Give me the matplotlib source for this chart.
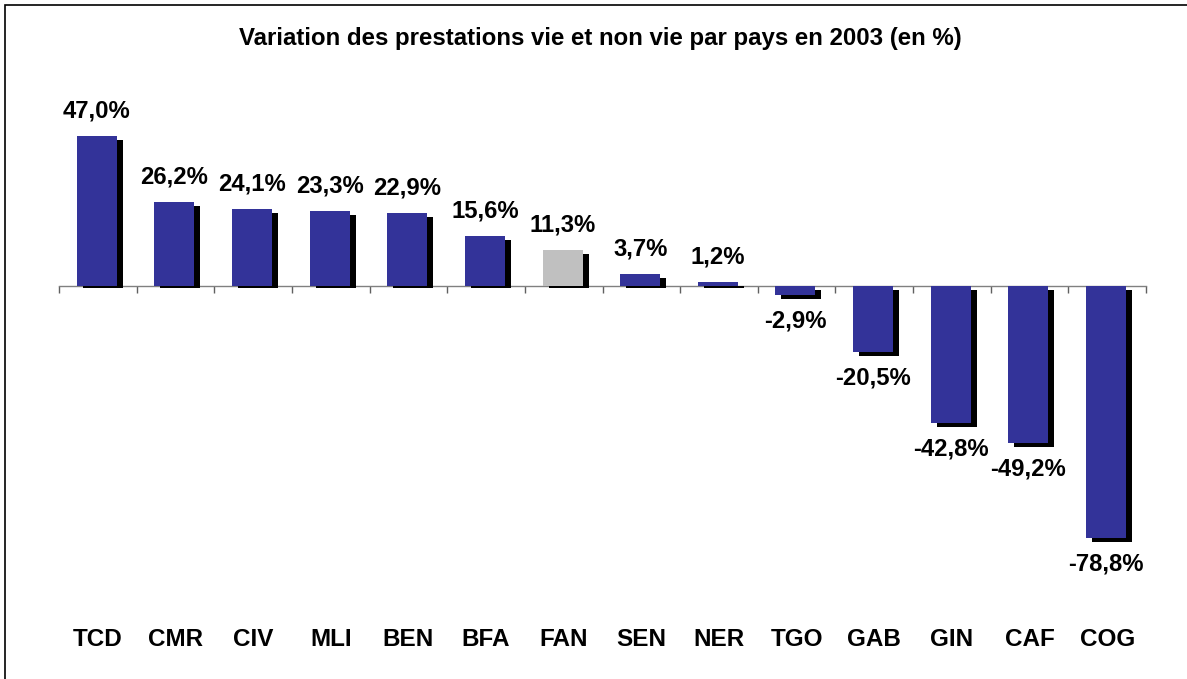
import matplotlib
matplotlib.use("Agg")
import matplotlib.pyplot as plt
from matplotlib.patches import Rectangle
from matplotlib.transforms import ScaledTranslation, blended_transform_factory

countries = ["TCD", "CMR", "CIV", "MLI", "BEN", "BFA", "FAN",
             "SEN", "NER", "TGO", "GAB", "GIN", "CAF", "COG"]
variation = [47.0, 26.2, 24.1, 23.3, 22.9, 15.6, 11.3,
             3.7, 1.2, -2.9, -20.5, -42.8, -49.2, -78.8]
highlight = "FAN"

title = "Variation des prestations vie et non vie par pays en 2003 (en %)"
font = "Liberation Sans"

W, H, DPI = 1187, 679, 100
fig = plt.figure(figsize=(W / DPI, H / DPI), dpi=DPI)
fig.patch.set_facecolor("white")

# plot area in pixel units
left_px, right_px, top_px, bot_px = 59, 1146, 100, 600
zero_px = 286
scale = 3.2  # pixels per percentage point
ax = fig.add_axes([left_px / W, 1 - bot_px / H,
                   (right_px - left_px) / W, (bot_px - top_px) / H])
ax.set_xlim(-0.5, len(countries) - 0.5)
ax.set_ylim(-(bot_px - zero_px) / scale, (zero_px - top_px) / scale)
ax.set_facecolor("none")

x = list(range(len(countries)))
colors = ["#C0C0C0" if c == highlight else "#333399" for c in countries]
width = 0.515
shift = -0.015

# drop shadow, offset right and down; positive shadows stop just under the axis
dy = 4
shadow_tr = ax.transData + ScaledTranslation(6 / DPI, -dy / DPI, fig.dpi_scale_trans)
lift = (dy - 1.5) / scale
sh_bottom = [lift if v > 0 else 0 for v in variation]
sh_height = [v - b for v, b in zip(variation, sh_bottom)]
ax.bar([i + shift for i in x], sh_height, bottom=sh_bottom, width=width,
       color="black", transform=shadow_tr, zorder=3, linewidth=0)
ax.bar([i + shift for i in x], variation, width=width, color=colors,
       zorder=4, linewidth=0)

for i, v in zip(x, variation):
    label = f"{v:.1f}%".replace(".", ",")
    off = 25 if v >= 0 else -26
    ax.annotate(label, (i + shift, v), xytext=(0, off * 72 / DPI),
                textcoords="offset points", ha="center", va="center",
                fontsize=17.2, fontweight="bold", family=font, zorder=5)

# axis line at zero with ticks at category boundaries
for s in ["top", "right", "left"]:
    ax.spines[s].set_visible(False)
ax.spines["bottom"].set_position(("data", 0))
ax.spines["bottom"].set_color("#808080")
ax.spines["bottom"].set_linewidth(1.0)
ax.spines["bottom"].set_zorder(2)
ax.set_yticks([])
ax.set_xticks([i - 0.5 for i in range(len(countries) + 1)])
ax.set_xticklabels([])
ax.tick_params(axis="x", direction="out", length=5, width=1, color="#606060")

# category names along the bottom
lab_tr = blended_transform_factory(ax.transData, fig.transFigure)
for i, c in zip(x, countries):
    ax.text(i, 1 - 640 / H, c, transform=lab_tr, ha="center", va="center",
            fontsize=17.5, fontweight="bold", family=font)

fig.text(600 / W, 1 - 39 / H, title, ha="center", va="center",
         fontsize=17.3, fontweight="bold", family=font)

# frame around the chart
fig.patches.append(Rectangle((5 / W, -0.1), 1.2, 1 - 5 / H + 0.1,
                             transform=fig.transFigure, fill=False,
                             edgecolor="black", linewidth=1.2))

fig.savefig("out.png", dpi=DPI)
